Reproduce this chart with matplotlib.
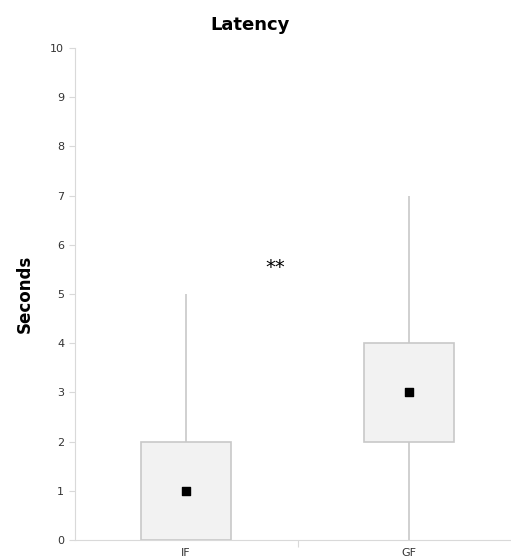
import numpy as np
import matplotlib.pyplot as plt

plt.rcParams.update({"font.family": "DejaVu Sans"})

groups = ["IF", "GF"]
q1 = [0, 2]
q3 = [2, 4]
whisker_lo = [0, 0]
whisker_hi = [5, 7]
means = [1, 3]

fig = plt.figure(figsize=(5.11, 5.58), dpi=100)
ax = fig.add_axes([0.1458, 0.0323, 0.873, 0.8817])

pos = np.arange(len(groups))
grey = "#c8c8c8"

ax.vlines(pos, whisker_lo, whisker_hi, color=grey, lw=1.2, zorder=1)
ax.bar(pos, np.array(q3) - np.array(q1), bottom=q1, width=0.4,
       color="#f2f2f2", edgecolor=grey, lw=1.2, zorder=2)
ax.scatter(pos, means, marker="s", s=36, color="black", zorder=3)

ax.text(0.4, 5.53, "**", ha="center", va="center", fontsize=14)

ax.set_xlim(-0.5, 1.5)
ax.set_ylim(0, 10)
ax.set_yticks(range(0, 11))
ax.set_xticks([0.5])
ax.set_xticklabels([""])
ax.set_xticks(pos, minor=True)
ax.set_xticklabels(groups, minor=True)
ax.tick_params(axis="x", which="minor", length=0, pad=6, labelsize=8, colors="#333333")
ax.tick_params(axis="x", which="major", length=5, color="#d9d9d9", direction="out")
ax.tick_params(axis="y", length=4, color="#d9d9d9", labelsize=8, labelcolor="#333333")

for s in ["top", "right"]:
    ax.spines[s].set_visible(False)
for s in ["left", "bottom"]:
    ax.spines[s].set_color("#d9d9d9")

ax.set_ylabel("Seconds", fontsize=12, fontweight="bold", labelpad=12)
fig.text(0.49, 0.955, "Latency", ha="center", va="center", fontsize=13, fontweight="bold")

fig.savefig("out.png", dpi=100)
